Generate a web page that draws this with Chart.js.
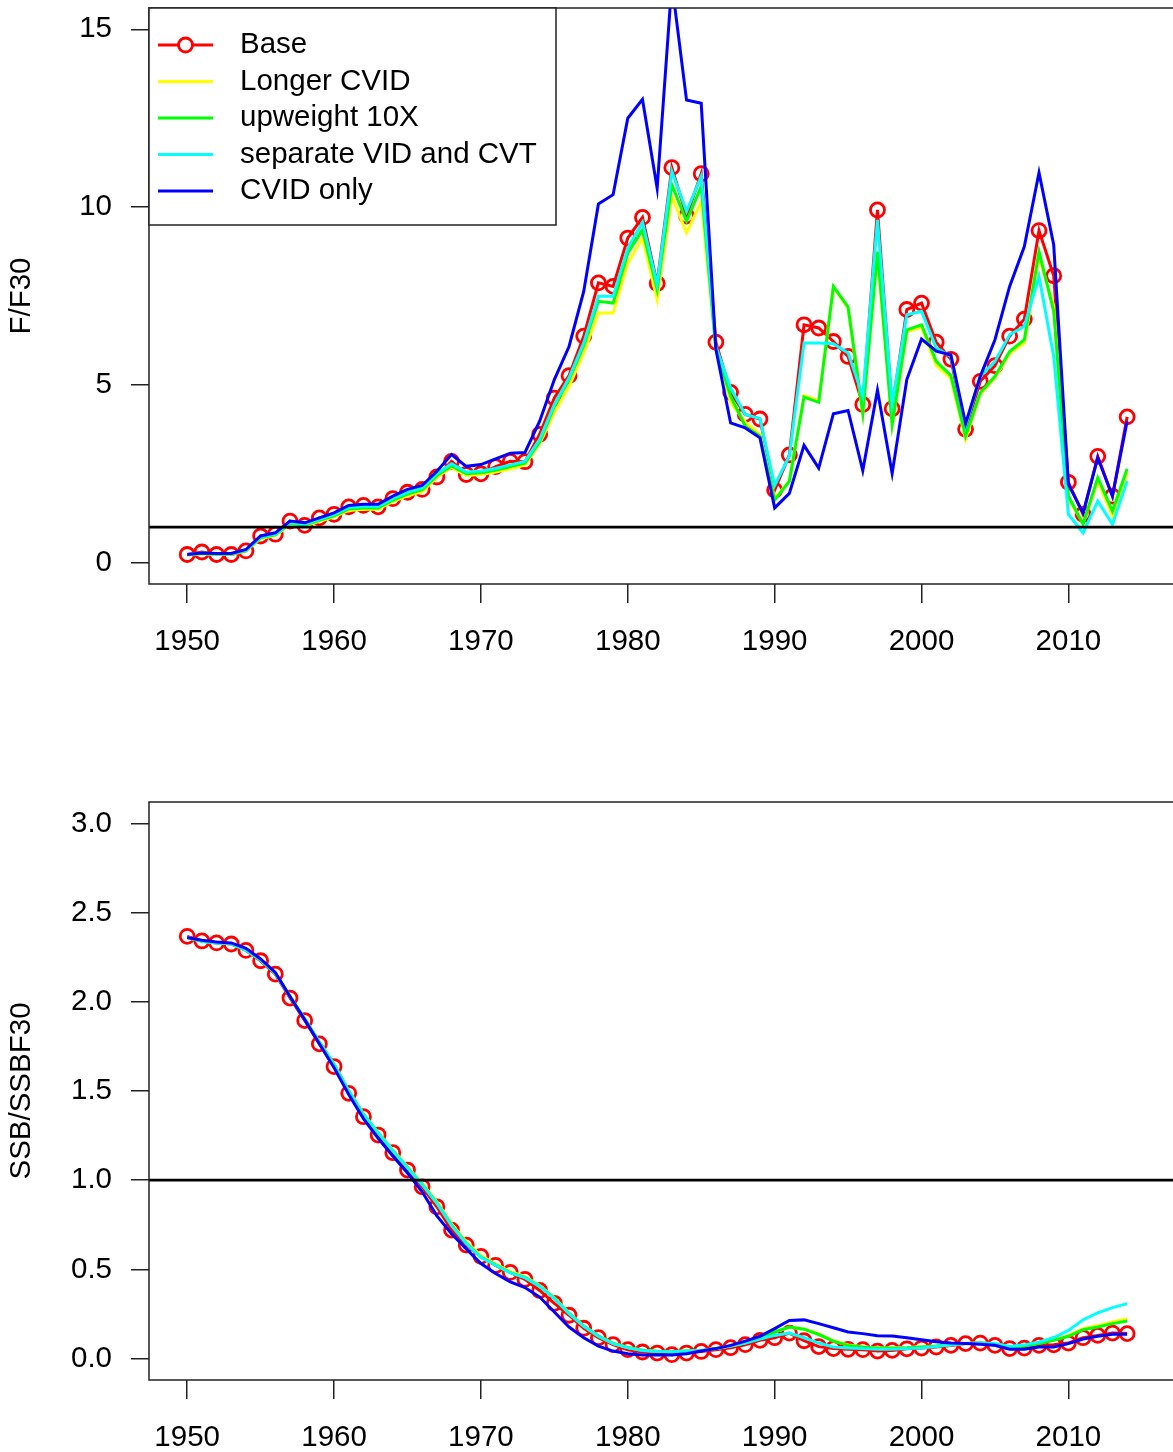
<!DOCTYPE html>
<html>
<head>
<meta charset="utf-8">
<script src="https://cdn.jsdelivr.net/npm/chart.js@4.4.1/dist/chart.umd.min.js"></script>
<style>
  body { margin: 0; overflow: hidden; background: #fff; }
  .panel { position: absolute; left: 0; width: 1200px; }
</style>
</head>
<body>
<div class="panel" style="top:0;height:700px"><canvas id="fChart" width="1200" height="700"></canvas></div>
<div class="panel" style="top:700px;height:752px"><canvas id="ssbChart" width="1200" height="752"></canvas></div>
<script>
// years on the x axis
var years = [1950,1951,1952,1953,1954,1955,1956,1957,1958,1959,
  1960,1961,1962,1963,1964,1965,1966,1967,1968,1969,
  1970,1971,1972,1973,1974,1975,1976,1977,1978,1979,
  1980,1981,1982,1983,1984,1985,1986,1987,1988,1989,
  1990,1991,1992,1993,1994,1995,1996,1997,1998,1999,
  2000,2001,2002,2003,2004,2005,2006,2007,2008,2009,
  2010,2011,2012,2013,2014];

var runNames = ['Base', 'Longer CVID', 'upweight 10X', 'separate VID and CVT', 'CVID only'];
var runColors = ['#ff0000', '#ffff00', '#00ff00', '#00ffff', '#0000ff'];

// F/F30
var fBase = [0.23,0.30,0.23,0.23,0.33,0.75,0.80,1.17,1.05,1.26,
  1.36,1.57,1.61,1.57,1.80,1.98,2.06,2.41,2.85,2.48,
  2.50,2.70,2.85,2.84,3.61,4.63,5.26,6.37,7.87,7.77,
  9.13,9.71,7.85,11.11,9.75,10.94,6.20,4.79,4.17,4.04,
  2.04,3.03,6.69,6.60,6.22,5.80,4.45,9.92,4.33,7.12,
  7.30,6.20,5.72,3.75,5.10,5.54,6.37,6.85,9.34,8.07,
  2.26,1.36,2.99,1.87,4.10];
var fLongerCVID = [0.21,0.25,0.23,0.23,0.33,0.68,0.76,1.07,1.03,1.16,
  1.29,1.47,1.50,1.50,1.72,1.88,2.00,2.40,2.68,2.45,
  2.48,2.55,2.63,2.75,3.35,4.22,4.96,5.90,7.02,7.02,
  8.43,9.13,7.40,10.30,9.27,10.16,6.00,4.50,3.95,3.60,
  1.80,2.30,4.70,4.55,7.75,7.15,4.20,8.70,3.90,6.50,
  6.62,5.55,5.18,3.48,4.74,5.20,5.88,6.18,8.61,7.21,
  1.78,1.12,2.29,1.31,2.53];
var fUpweight = [0.22,0.26,0.24,0.24,0.34,0.70,0.78,1.10,1.06,1.19,
  1.32,1.51,1.54,1.54,1.76,1.93,2.05,2.45,2.72,2.50,
  2.53,2.60,2.70,2.80,3.40,4.40,5.15,6.10,7.35,7.30,
  8.71,9.36,7.68,10.63,9.60,10.58,6.00,4.68,3.84,3.56,
  1.76,2.29,4.66,4.51,7.77,7.19,4.21,8.75,3.88,6.55,
  6.69,5.66,5.26,3.56,4.78,5.24,5.94,6.27,8.75,7.07,
  1.87,1.08,2.39,1.45,2.64];
var fSeparate = [0.23,0.27,0.25,0.25,0.35,0.72,0.80,1.12,1.08,1.22,
  1.35,1.55,1.58,1.58,1.80,1.98,2.10,2.50,2.78,2.55,
  2.58,2.65,2.75,2.85,3.47,4.45,5.20,6.18,7.49,7.49,
  8.85,9.57,7.82,11.00,9.88,10.86,6.08,4.91,4.17,4.05,
  2.17,3.00,6.18,6.18,6.16,5.90,4.68,9.64,4.45,6.97,
  7.07,6.04,5.80,3.84,5.24,5.66,6.41,6.65,8.05,5.80,
  1.36,0.84,1.73,1.08,2.29];
var fCvidOnly = [0.23,0.27,0.26,0.26,0.37,0.75,0.84,1.17,1.12,1.26,
  1.40,1.61,1.64,1.64,1.87,2.06,2.17,2.57,3.04,2.71,
  2.76,2.92,3.08,3.10,3.98,5.15,6.08,7.63,10.09,10.35,
  12.50,13.03,10.53,16.30,13.01,12.92,6.00,3.93,3.79,3.51,
  1.54,1.95,3.30,2.66,4.19,4.28,2.59,4.85,2.51,5.15,
  6.29,5.95,5.84,3.91,5.24,6.27,7.77,8.89,10.97,8.94,
  2.20,1.40,2.95,1.87,3.98];

// SSB/SSBF30
var ssbBase = [2.367,2.341,2.330,2.324,2.288,2.230,2.155,2.021,1.895,1.764,
  1.637,1.487,1.356,1.253,1.154,1.057,0.963,0.851,0.720,0.636,
  0.573,0.522,0.483,0.444,0.382,0.310,0.243,0.170,0.117,0.078,
  0.050,0.037,0.031,0.022,0.031,0.040,0.050,0.061,0.078,0.102,
  0.117,0.143,0.100,0.067,0.056,0.052,0.050,0.042,0.046,0.055,
  0.059,0.065,0.074,0.084,0.087,0.074,0.056,0.059,0.074,0.077,
  0.087,0.117,0.130,0.143,0.140];
var ssbLongerCVID = [2.360,2.340,2.330,2.325,2.290,2.235,2.160,2.030,1.905,1.775,
  1.650,1.502,1.372,1.268,1.170,1.075,0.982,0.878,0.755,0.655,
  0.577,0.530,0.488,0.460,0.410,0.340,0.256,0.184,0.127,0.086,
  0.062,0.047,0.041,0.038,0.042,0.046,0.056,0.070,0.088,0.118,
  0.150,0.176,0.166,0.138,0.100,0.076,0.066,0.060,0.060,0.062,
  0.066,0.071,0.078,0.085,0.088,0.082,0.067,0.072,0.086,0.106,
  0.130,0.168,0.185,0.205,0.224];
var ssbUpweight = [2.360,2.340,2.330,2.325,2.290,2.235,2.160,2.030,1.905,1.775,
  1.650,1.500,1.370,1.265,1.165,1.070,0.977,0.872,0.748,0.648,
  0.569,0.525,0.482,0.455,0.406,0.337,0.253,0.182,0.126,0.085,
  0.062,0.047,0.041,0.038,0.042,0.046,0.056,0.070,0.088,0.118,
  0.149,0.177,0.165,0.135,0.098,0.074,0.065,0.059,0.059,0.061,
  0.065,0.070,0.077,0.084,0.087,0.080,0.065,0.070,0.084,0.102,
  0.125,0.162,0.177,0.196,0.211];
var ssbSeparate = [2.360,2.340,2.330,2.325,2.290,2.235,2.160,2.030,1.905,1.775,
  1.650,1.500,1.370,1.265,1.165,1.070,0.975,0.870,0.745,0.645,
  0.567,0.523,0.480,0.454,0.405,0.336,0.252,0.181,0.125,0.084,
  0.061,0.046,0.040,0.038,0.042,0.046,0.056,0.070,0.087,0.110,
  0.130,0.143,0.117,0.087,0.065,0.059,0.056,0.052,0.052,0.056,
  0.059,0.068,0.077,0.084,0.087,0.084,0.068,0.077,0.093,0.117,
  0.158,0.218,0.256,0.286,0.308];
var ssbCvidOnly = [2.360,2.345,2.335,2.330,2.300,2.240,2.165,2.030,1.900,1.765,
  1.630,1.480,1.345,1.235,1.135,1.040,0.935,0.800,0.700,0.615,
  0.533,0.477,0.430,0.398,0.345,0.261,0.177,0.117,0.070,0.042,
  0.027,0.020,0.020,0.020,0.027,0.042,0.056,0.074,0.098,0.125,
  0.168,0.214,0.217,0.196,0.173,0.149,0.140,0.128,0.126,0.117,
  0.106,0.095,0.088,0.084,0.080,0.075,0.053,0.053,0.065,0.065,
  0.084,0.110,0.125,0.136,0.136];

var yearTicks = [1950, 1960, 1970, 1980, 1990, 2000, 2010];
var fTicks = [0, 5, 10, 15];
var ssbTicks = [0, 0.5, 1, 1.5, 2, 2.5, 3];

var fontFamily = '"Liberation Sans", Arial, Helvetica, sans-serif';
var fontSize = 29.5;

// box round the plot, the reference line at 1, and the legend
var framePlugin = {
  id: 'frame',
  afterDatasetsDraw: function (chart) {
    var ctx = chart.ctx, a = chart.chartArea;
    var y1 = chart.scales.y.getPixelForValue(1);
    ctx.save();
    ctx.strokeStyle = '#000';
    ctx.lineWidth = 2.8;
    ctx.beginPath();
    ctx.moveTo(a.left, y1);
    ctx.lineTo(a.right, y1);
    ctx.stroke();
    ctx.lineWidth = 1.5;
    ctx.strokeStyle = '#222';
    ctx.strokeRect(a.left, a.top, a.right - a.left, a.bottom - a.top);
    ctx.restore();
  },
  afterDraw: function (chart, args, opts) {
    if (!opts.legend) return;
    var ctx = chart.ctx, a = chart.chartArea;
    ctx.save();
    ctx.fillStyle = '#fff';
    ctx.fillRect(a.left, a.top, 407, 217);
    ctx.strokeStyle = '#222';
    ctx.lineWidth = 1.5;
    ctx.strokeRect(a.left, a.top, 407, 217);
    ctx.font = fontSize + 'px ' + fontFamily;
    ctx.textBaseline = 'middle';
    for (var i = 0; i < runNames.length; i++) {
      var y = a.top + 37 + i * 36.5;
      ctx.strokeStyle = runColors[i];
      ctx.lineWidth = 3;
      ctx.beginPath();
      ctx.moveTo(a.left + 9, y);
      ctx.lineTo(a.left + 64, y);
      ctx.stroke();
      if (i === 0) {
        ctx.fillStyle = '#fff';
        ctx.lineWidth = 2.8;
        ctx.beginPath();
        ctx.arc(a.left + 36.5, y, 7, 0, Math.PI * 2);
        ctx.fill();
        ctx.stroke();
      }
      ctx.fillStyle = '#000';
      ctx.fillText(runNames[i], a.left + 91, y);
    }
    ctx.restore();
  }
};

function points(vals) {
  return years.map(function (yr, i) { return { x: yr, y: vals[i] }; });
}

// keep the scales from pushing the plot area in for their end labels
function noPadding(s) {
  s.paddingTop = 0; s.paddingBottom = 0; s.paddingLeft = 0; s.paddingRight = 0;
}

function makeChart(canvasId, series, yTitle, yMin, yMax, yTicks, yFmt, padTop, xHeight, withLegend) {
  var datasets = series.map(function (vals, i) {
    return {
      label: runNames[i],
      data: points(vals),
      borderColor: runColors[i],
      borderWidth: 3,
      pointRadius: i === 0 ? 7 : 0,
      pointBorderWidth: 2.8,
      pointBorderColor: runColors[i],
      pointBackgroundColor: 'rgba(0,0,0,0)',
      tension: 0,
      order: 5 - i
    };
  });
  return new Chart(document.getElementById(canvasId), {
    type: 'line',
    data: { datasets: datasets },
    options: {
      responsive: false,
      animation: false,
      events: [],
      layout: { autoPadding: false, padding: { top: padTop, right: 20, bottom: 0, left: 0 } },
      plugins: {
        legend: { display: false },
        tooltip: { enabled: false },
        frame: { legend: withLegend }
      },
      scales: {
        x: {
          type: 'linear',
          min: 1947.4,
          max: 2017.6,
          afterBuildTicks: function (s) { s.ticks = yearTicks.map(function (v) { return { value: v }; }); },
          afterFit: function (s) { s.height = xHeight; noPadding(s); },
          border: { display: false },
          grid: { drawOnChartArea: false, drawTicks: true, tickLength: 19, color: '#222', lineWidth: 1.5 },
          ticks: {
            color: '#000', padding: 21, maxRotation: 0, autoSkip: false,
            font: { family: fontFamily, size: fontSize },
            callback: function (v) { return String(v); }
          }
        },
        y: {
          min: yMin,
          max: yMax,
          afterBuildTicks: function (s) { s.ticks = yTicks.map(function (v) { return { value: v }; }); },
          afterFit: function (s) { s.width = 149; noPadding(s); },
          border: { display: false },
          grid: { drawOnChartArea: false, drawTicks: true, tickLength: 18, color: '#222', lineWidth: 1.5 },
          ticks: {
            color: '#000', padding: 19, autoSkip: false,
            font: { family: fontFamily, size: fontSize },
            callback: yFmt
          },
          title: {
            display: true, text: yTitle, color: '#000',
            font: { family: fontFamily, size: fontSize },
            padding: { top: 4, bottom: 0 }
          }
        }
      }
    },
    plugins: [framePlugin]
  });
}

var fChart = makeChart('fChart',
  [fBase, fLongerCVID, fUpweight, fSeparate, fCvidOnly],
  'F/F30', -0.6, 15.6, fTicks, function (v) { return String(v); }, 8, 116, true);

var ssbChart = makeChart('ssbChart',
  [ssbBase, ssbLongerCVID, ssbUpweight, ssbSeparate, ssbCvidOnly],
  'SSB/SSBF30', -0.12, 3.12, ssbTicks, function (v) { return v.toFixed(1); }, 102, 72, false);
</script>
</body>
</html>
